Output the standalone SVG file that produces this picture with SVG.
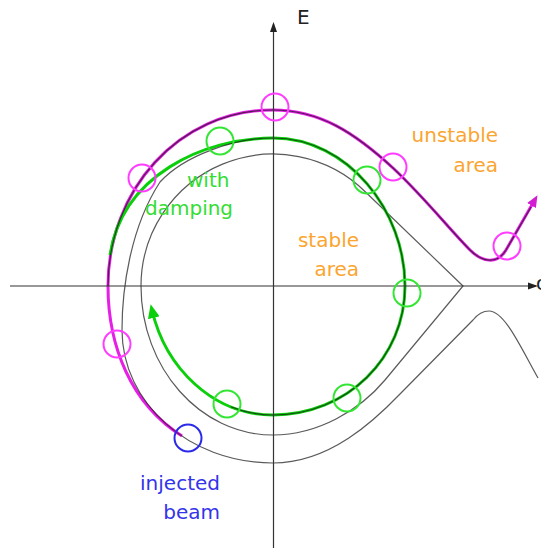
<svg xmlns="http://www.w3.org/2000/svg" width="541" height="548" viewBox="0 0 541 548">
<style>
.ax{stroke:#333;stroke-width:1.2;fill:none}
.bk{stroke:#1a1a1a;stroke-opacity:0.72;stroke-width:1.2;fill:none}
.mg{stroke:#e61ee6;stroke-width:3;fill:none}
.gr{stroke:#0ccf0c;stroke-width:3;fill:none}
.cm{stroke:#ff3cff;stroke-width:2;fill:none}
.cg{stroke:#33e633;stroke-width:2;fill:none}
.cb{stroke:#2a2ae8;stroke-width:2;fill:none}
text{font-family:"DejaVu Sans","Liberation Sans",sans-serif;font-size:20px}
.or{fill:#fba531}
.gt{fill:#33dd33}
.bt{fill:#3434ea}
</style>
<defs>
<marker id="ah" markerUnits="userSpaceOnUse" markerWidth="10" markerHeight="8" refX="8" refY="4" orient="auto" viewBox="0 0 10 8"><path d="M0,0.5 L10,4 L0,7.5 Z" fill="#222"/></marker>
<marker id="ag" markerUnits="userSpaceOnUse" markerWidth="14" markerHeight="12" refX="8" refY="6" orient="auto" viewBox="0 0 14 12"><path d="M0,0 L14,6 L0,12 Z" fill="#0ccf0c"/></marker>
<marker id="am" markerUnits="userSpaceOnUse" markerWidth="12" markerHeight="10" refX="3" refY="5" orient="auto" viewBox="0 0 12 10"><path d="M0,0 L12,5 L0,10 Z" fill="#d21ed2"/></marker>
</defs>

<g id="separatrix">
<path class="bk" d="M463 286 L366.3 192.7 A132 132 0 0 0 141 286 C141 368 200 435 273 435 C318 435 360 410 385 380 Z"/>
</g>

<g id="connectors">
<path id="injected-trajectory" class="mg" marker-end="url(#am)" d="M182 436 C131 404 108 346 108 286 C108 191 178 110 273 110 C320 110 355 133 393 168 C425 198 450 230 470 250 C482 262 497 265 506 250 L533 203"/>
<path id="damped-trajectory" class="gr" marker-end="url(#ag)" d="M110 255 C122 176 203 138 273 138 C348 138 405 211 405 286 C405 358 347 415 273 415 C213 415 165.5 368 152 310"/>
<path id="outer-trajectory" class="bk" d="M538 378 C522 350 505 311 489 311 C482 311 477 315 473 320 L400 394 C375 420 330 463 273 463 C189 463 122 403 122 330 C122 290 130 228 160 182 C185 155 235 138 273 138 C348 138 405 211 405 286 C405 358 347 415 273 415 C258 415 243.8 412.1 230.7 406.8"/>
<path id="upper-trajectory" class="bk" d="M108 286 C108 191 178 110 273 110 C320 110 355 133 393 168 C425 198 450 230 470 250 C482 262 497 265 506 250 L531 207"/>
</g>

<g id="axes">
<path class="ax" marker-end="url(#ah)" d="M273.5 548 L273.5 24"/>
<path class="ax" marker-end="url(#ah)" d="M10 286 L536 286"/>
<text x="297" y="24" fill="#222">E</text>
<text x="536" y="290" fill="#222">φ</text>
</g>

<g id="markers">
<circle id="m1" class="cm" cx="275" cy="107" r="13.5"/>
<circle id="m2" class="cm" cx="142" cy="178" r="13.5"/>
<circle id="m3" class="cm" cx="393" cy="167" r="13.5"/>
<circle id="m4" class="cm" cx="117" cy="344" r="13.5"/>
<circle id="m5" class="cm" cx="507" cy="246" r="13.5"/>
<circle id="g1" class="cg" cx="220" cy="141" r="13.5"/>
<circle id="g2" class="cg" cx="367" cy="180" r="13.5"/>
<circle id="g3" class="cg" cx="407" cy="293" r="13.5"/>
<circle id="g4" class="cg" cx="347" cy="398" r="13.5"/>
<circle id="g5" class="cg" cx="227" cy="404" r="13.5"/>
<circle id="b1" class="cb" cx="188" cy="438" r="13.5"/>
</g>

<g id="labels">
<text class="or" x="498" y="142" text-anchor="end">unstable</text>
<text class="or" x="498" y="172" text-anchor="end">area</text>
<text class="or" x="359" y="247" text-anchor="end">stable</text>
<text class="or" x="359" y="276" text-anchor="end">area</text>
<text class="gt" x="187" y="187">with</text>
<text class="gt" x="145" y="215">damping</text>
<text class="bt" x="220" y="490" text-anchor="end">injected</text>
<text class="bt" x="220" y="519" text-anchor="end">beam</text>
</g>
</svg>
